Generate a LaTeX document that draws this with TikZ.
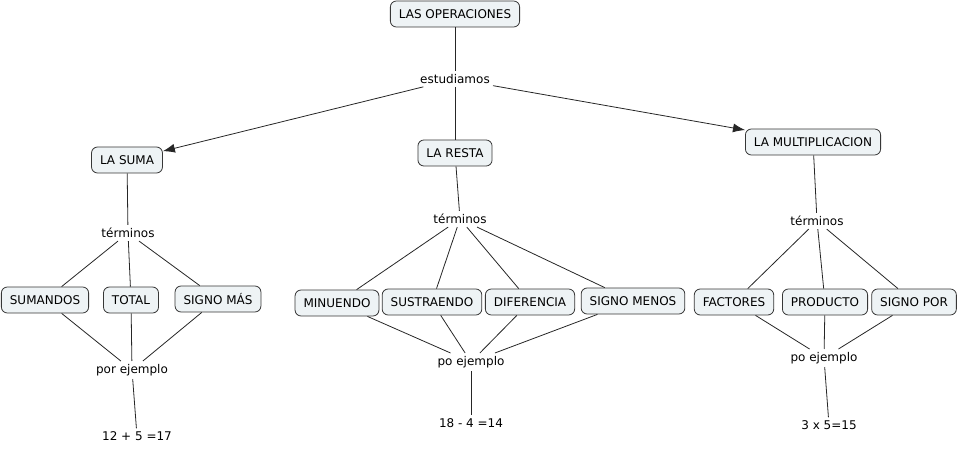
\documentclass[tikz,border=0pt]{standalone}
\usepackage{fontspec}
\setmainfont{DejaVu Sans}
\usetikzlibrary{arrows.meta}
\tikzset{>={Latex[width=9pt,length=12pt]}}
\definecolor{conceptfill}{RGB}{238,243,245}
\definecolor{conceptline}{RGB}{55,55,55}

\begin{document}
\begin{tikzpicture}[x=1pt, y=-1pt, concept/.style={rectangle, rounded corners=6pt, draw=conceptline, fill=conceptfill, line width=0.8pt, inner xsep=8.5pt, minimum height=26pt, font=\fontsize{12}{14}\selectfont}, linkword/.style={draw=none, fill=none, inner sep=3pt, font=\fontsize{12}{14}\selectfont}, connector/.style={line width=0.8pt, draw=black!85}]

    \useasboundingbox (0,0) rectangle (960,449);

    %Nodes
    \node[concept](operaciones) at (455,14){LAS OPERACIONES};
    \node[linkword](estudiamos) at (455,79){estudiamos};
    \node[concept](suma) at (127,160){LA SUMA};
    \node[concept](resta) at (455,153){LA RESTA};
    \node[concept](multi) at (813,142){LA MULTIPLICACION};

    \node[linkword](terminos_s) at (128,233){términos};
    \node[linkword](terminos_r) at (460,219){términos};
    \node[linkword](terminos_m) at (817,221){términos};

    \node[concept](sumandos) at (45,300){SUMANDOS};
    \node[concept](total) at (131,300){TOTAL};
    \node[concept](signo_mas) at (218,299){SIGNO MÁS};
    \node[concept](minuendo) at (337,303){MINUENDO};
    \node[concept](sustraendo) at (432,302){SUSTRAENDO};
    \node[concept](diferencia) at (530,302){DIFERENCIA};
    \node[concept](signo_menos) at (633,301){SIGNO MENOS};
    \node[concept](factores) at (734,302){FACTORES};
    \node[concept](producto) at (825,302){PRODUCTO};
    \node[concept](signo_por) at (914,302){SIGNO POR};

    \node[linkword](ejemplo_s) at (132,370){por ejemplo};
    \node[linkword](ejemplo_r) at (471,362){po ejemplo};
    \node[linkword](ejemplo_m) at (824,358){po ejemplo};

    \node[linkword](ej_suma) at (137,436){12 + 5 =17};
    \node[linkword](ej_resta) at (471,423){18 - 4 =14};
    \node[linkword](ej_multi) at (829,425){3 x 5=15};

    %Lines
    \draw[connector] (operaciones) -- (estudiamos);
    \draw[connector, ->] (estudiamos) -- (suma);
    \draw[connector] (estudiamos) -- (resta);
    \draw[connector, ->] (estudiamos) -- (multi);

    \draw[connector] (suma) -- (terminos_s);
    \draw[connector] (terminos_s) -- (sumandos);
    \draw[connector] (terminos_s) -- (total);
    \draw[connector] (terminos_s) -- (signo_mas);
    \draw[connector] (sumandos) -- (ejemplo_s);
    \draw[connector] (total) -- (ejemplo_s);
    \draw[connector] (signo_mas) -- (ejemplo_s);
    \draw[connector] (ejemplo_s) -- (ej_suma);

    \draw[connector] (resta) -- (terminos_r);
    \draw[connector] (terminos_r) -- (minuendo);
    \draw[connector] (terminos_r) -- (sustraendo);
    \draw[connector] (terminos_r) -- (diferencia);
    \draw[connector] (terminos_r) -- (signo_menos);
    \draw[connector] (minuendo) -- (ejemplo_r);
    \draw[connector] (sustraendo) -- (ejemplo_r);
    \draw[connector] (diferencia) -- (ejemplo_r);
    \draw[connector] (signo_menos) -- (ejemplo_r);
    \draw[connector] (ejemplo_r) -- (ej_resta);

    \draw[connector] (multi) -- (terminos_m);
    \draw[connector] (terminos_m) -- (factores);
    \draw[connector] (terminos_m) -- (producto);
    \draw[connector] (terminos_m) -- (signo_por);
    \draw[connector] (factores) -- (ejemplo_m);
    \draw[connector] (producto) -- (ejemplo_m);
    \draw[connector] (signo_por) -- (ejemplo_m);
    \draw[connector] (ejemplo_m) -- (ej_multi);

\end{tikzpicture}
\end{document}
